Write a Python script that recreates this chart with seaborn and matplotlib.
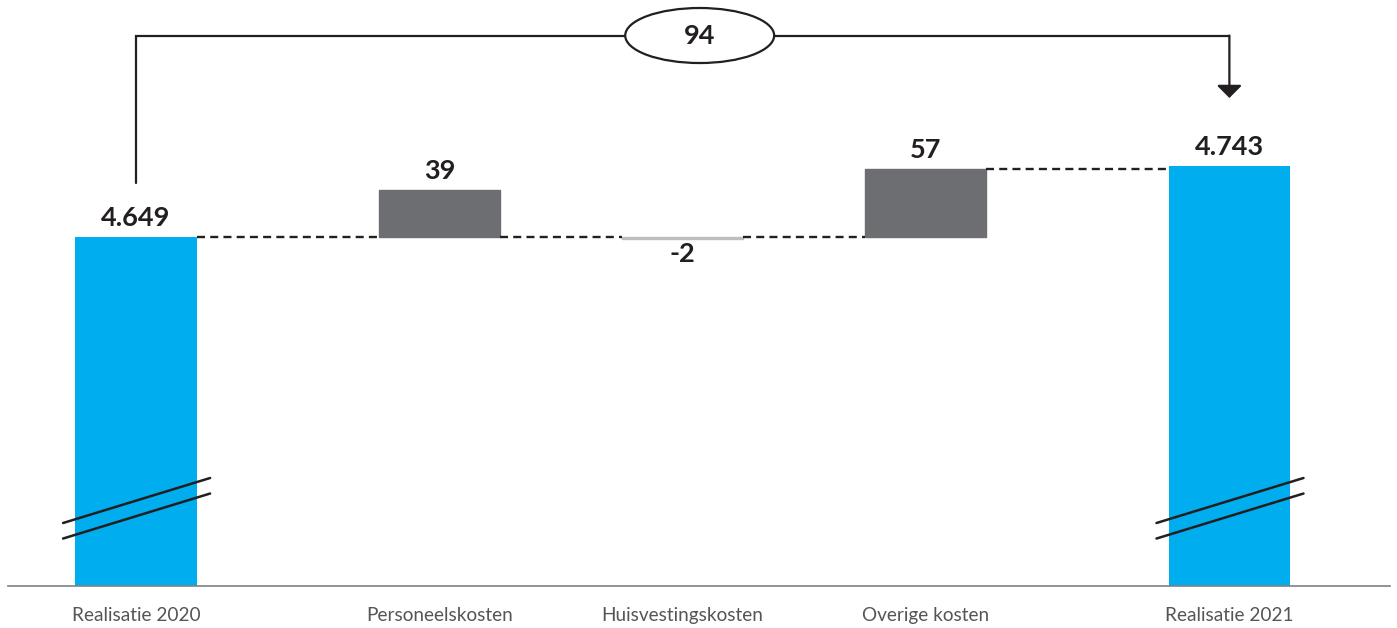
"""
Waterfall: realisatie 2020 -> 2021, with the cost changes in between.
Broken y-axis for the totals, changes drawn on their own scale.
"""

import numpy as np
import matplotlib

matplotlib.use("Agg")
import matplotlib.pyplot as plt
import matplotlib.transforms as mtransforms
from matplotlib.patches import Ellipse
import seaborn as sns

# data
categories = ["Realisatie 2020", "Personeelskosten", "Huisvestingskosten",
              "Overige kosten", "Realisatie 2021"]
total_labels = ["Realisatie 2020", "Realisatie 2021"]
total_values = [4649, 4743]
change_labels = ["Personeelskosten", "Huisvestingskosten", "Overige kosten"]
change_values = [39, -2, 57]
difference = 94

# layout / style
x_pos = {"Realisatie 2020": 0.0, "Personeelskosten": 1.25, "Huisvestingskosten": 2.25,
         "Overige kosten": 3.25, "Realisatie 2021": 4.5}
BAR_W = 0.5
BLUE = "#00AEEF"
GREY = "#6D6E71"
LIGHT = "#BCBEC0"
INK = "#231F20"
LABEL = "#555557"

sns.set_theme(style="white")
plt.rcParams["font.family"] = ["Lato", "DejaVu Sans"]


def nl(v):
    return f"{v:,}".replace(",", ".")


def main():
    fig = plt.figure(figsize=(13.97, 6.28), dpi=100)
    ax = fig.add_axes([8 / 1397, 42 / 628, 1382 / 1397, 586 / 628])
    ax2 = ax.twinx()

    # totals on the (broken) main axis
    tx = [x_pos[c] for c in total_labels]
    sns.barplot(x=tx, y=total_values, native_scale=True,
                width=BAR_W / np.diff(tx).min(), color=BLUE, saturation=1,
                errorbar=None, linewidth=0, ax=ax)

    # changes on their own scale, zero at the 2020 level
    cx = [x_pos[c] for c in change_labels]
    sns.barplot(x=cx, y=change_values, hue=change_labels,
                palette=[GREY, LIGHT, GREY], native_scale=True,
                width=BAR_W / np.diff(cx).min(), saturation=1, errorbar=None,
                dodge=False, legend=False, ax=ax2)
    for p in ax2.patches:
        p.set_edgecolor(p.get_facecolor())
        p.set_linewidth(1)

    ax.set_ylim(4186.9, 4962.7)
    ax2.set_ylim(-290.8, 197.5)
    ax.set_xlim(-0.5267, 5.161)

    # connectors
    dash = dict(color=INK, lw=1.7, dashes=(3.4, 2.2), zorder=3)
    half = BAR_W / 2
    ax.plot([tx[0] + half, cx[0] - half], [total_values[0]] * 2, **dash)
    for a, b in zip(cx[:-1], cx[1:]):
        ax2.plot([a + half, b - half], [0, 0], **dash)
    ax2.plot([cx[-1] + half, tx[1] - half], [change_values[-1]] * 2, **dash)

    # value labels
    for x, v in zip(tx, total_values):
        ax.annotate(nl(v), (x, v), xytext=(0, 5), textcoords="offset points",
                    ha="center", va="bottom", fontsize=19.5, fontweight="bold",
                    color=INK)
    for x, v in zip(cx, change_values):
        up = v > 0
        ax2.annotate(nl(v), (x, v), xytext=(0, 5 if up else -2),
                     textcoords="offset points", ha="center",
                     va="bottom" if up else "top", fontsize=19.5,
                     fontweight="bold", color=INK)

    # bracket with difference
    tr = mtransforms.blended_transform_factory(ax.transData, ax.transAxes)
    y_top = 0.9394
    ax.plot([tx[0], tx[0], tx[1]], [0.6877, y_top, y_top], color=INK, lw=1.6,
            transform=tr, clip_on=False, zorder=3, solid_joinstyle="miter")
    ax.annotate("", xy=(tx[1], 0.8328), xytext=(tx[1], y_top), xycoords=tr,
                arrowprops=dict(arrowstyle="-|>,head_length=0.4,head_width=0.4",
                                color=INK, lw=1.6, mutation_scale=19,
                                shrinkA=0, shrinkB=0))
    ell = Ellipse((2.32, y_top), 0.613, 0.0939, transform=tr, facecolor="white",
                  edgecolor=INK, lw=1.6, zorder=4, clip_on=False)
    ax.add_patch(ell)
    ax.text(2.32, y_top, str(difference), transform=tr, ha="center", va="center",
            fontsize=19.5, fontweight="bold", color=INK, zorder=5)

    # axis break marks on the totals
    for x in tx:
        for off in (0, -0.0265):
            ax.plot([x - 0.3, x + 0.305], [0.1075 + off, 0.1843 + off],
                    color=INK, lw=1.8, transform=tr, zorder=4)

    # axes cosmetics
    ax.set_xticks([x_pos[c] for c in categories])
    ax.set_xticklabels(categories, fontsize=13.7, color=LABEL)
    ax.tick_params(axis="x", length=0, pad=15)
    ax.set_yticks([])
    ax2.set_yticks([])
    ax2.xaxis.set_visible(False)
    ax.set_xlabel("")
    ax.set_ylabel("")
    ax2.set_ylabel("")
    for a in (ax, ax2):
        for s in ("top", "left", "right"):
            a.spines[s].set_visible(False)
    ax2.spines["bottom"].set_visible(False)
    ax.spines["bottom"].set_color("#808080")
    ax.spines["bottom"].set_linewidth(1.2)

    fig.savefig("out.png", dpi=100)
    plt.close(fig)


if __name__ == "__main__":
    main()
